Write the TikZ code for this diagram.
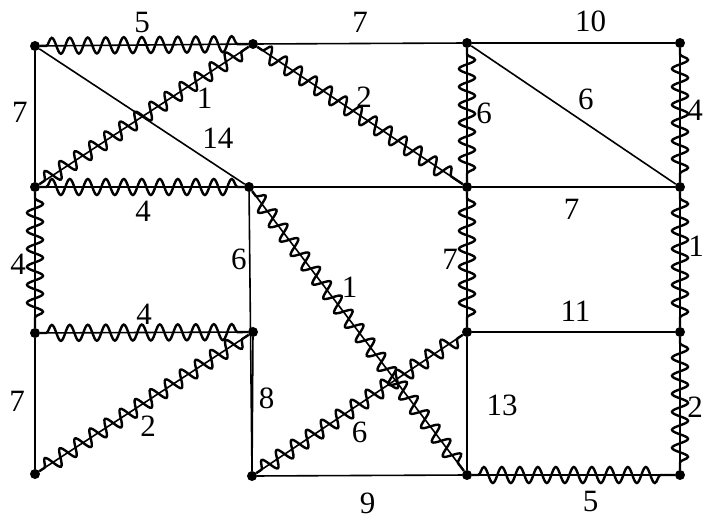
\documentclass[tikz,border=0pt]{standalone}
\usepackage{fontspec}
\setmainfont{Liberation Serif}
\usetikzlibrary{decorations.pathmorphing}

\tikzset{
  vtx/.style = {circle, fill=black, inner sep=0pt, minimum size=10pt},
  edg/.style = {line width=1.6pt},
  mst/.style = {postaction={draw, line width=2.4pt, decorate,
                decoration={snake, amplitude=8pt, segment length=18pt,
                            pre length=6pt, post length=6pt}}},
  lbl/.style = {font=\fontsize{31}{31}\selectfont, inner sep=0pt},
}

\begin{document}
\begin{tikzpicture}[x=1pt, y=-1pt]
\useasboundingbox (0,0) rectangle (703,519);
\fill[white] (0,0) rectangle (703,519);

% ---- Vertices ---------------------------------------------------------------
\node[vtx] (a) at (35,46)  {};
\node[vtx] (b) at (253,44) {};
\node[vtx] (c) at (467,43) {};
\node[vtx] (d) at (680,43) {};
\node[vtx] (e) at (35,187)  {};
\node[vtx] (f) at (249,187) {};
\node[vtx] (g) at (467,187) {};
\node[vtx] (h) at (680,187) {};
\node[vtx] (i) at (35,333)  {};
\node[vtx] (j) at (253,332) {};
\node[vtx] (k) at (467,332) {};
\node[vtx] (l) at (680,332) {};
\node[vtx] (m) at (35,474)  {};
\node[vtx] (n) at (252,476) {};
\node[vtx] (o) at (467,475) {};
\node[vtx] (p) at (680,475) {};

% ---- Row 1 ------------------------------------------------------------------
\draw[edg, mst] (a) -- node[lbl, xshift=-2, yshift=22] {5} (b);
\draw[edg] (b) -- node[lbl, yshift=21] {7} (c);
\draw[edg] (c) -- node[lbl, xshift=17, yshift=22] {10} (d);

% ---- Rows 1-2 ---------------------------------------------------------------
\draw[edg] (a) -- node[lbl, xshift=-15, yshift=4] {7} (e);
\draw[edg] (a) -- node[lbl, pos=0.87, yshift=28] {14} (f);
\draw[edg, mst] (e) -- node[lbl, pos=0.79, yshift=-23] {1} (b);
\draw[edg, mst] (b) -- node[lbl, pos=0.52, yshift=21] {2} (g);
\draw[edg, mst] (c) -- node[lbl, xshift=17, yshift=2] {6} (g);
\draw[edg] (c) -- node[lbl, pos=0.56, yshift=24] {6} (h);
\draw[edg, mst] (d) -- node[lbl, xshift=15, yshift=5] {4} (h);

% ---- Row 2 ------------------------------------------------------------------
\draw[edg, mst] (e) -- node[lbl, xshift=1, yshift=-24] {4} (f);
\draw[edg] (f) -- (g);
\draw[edg] (g) -- node[lbl, xshift=-2, yshift=-22] {7} (h);

% ---- Rows 2-3 ---------------------------------------------------------------
\draw[edg, mst] (e) -- node[lbl, xshift=-17, yshift=-4] {4} (i);
\draw[edg] (f) -- node[lbl, pos=0.24, xshift=-11] {6} (n);
\draw[edg, mst] (f) -- node[lbl, pos=0.46, yshift=33] {1} (o);
\draw[edg, mst] (g) -- node[lbl, xshift=-17] {7} (k);
\draw[edg, mst] (h) -- node[lbl, xshift=16, yshift=13] {1} (l);

% ---- Row 3 ------------------------------------------------------------------
\draw[edg, mst] (i) -- node[lbl, yshift=18] {4} (j);
\draw[edg] (k) -- node[lbl, xshift=2, yshift=21] {11} (l);

% ---- Rows 3-4 ---------------------------------------------------------------
\draw[edg] (i) -- node[lbl, xshift=-18, yshift=2] {7} (m);
\draw[edg, mst] (m) -- node[lbl, pos=0.52, yshift=-26] {2} (j);
\draw[edg] (j) -- node[lbl, xshift=14, yshift=6] {8} (n);
\draw[edg, mst] (n) -- node[lbl, pos=0.5, yshift=-28] {6} (k);
\draw[edg] (k) -- node[lbl, xshift=35, yshift=-2] {13} (o);
\draw[edg, mst] (l) -- node[lbl, xshift=15, yshift=-4] {2} (p);

% ---- Row 4 ------------------------------------------------------------------
\draw[edg] (n) -- node[lbl, xshift=8, yshift=-28] {9} (o);
\draw[edg, mst] (o) -- node[lbl, xshift=17, yshift=-26] {5} (p);

\end{tikzpicture}
\end{document}
